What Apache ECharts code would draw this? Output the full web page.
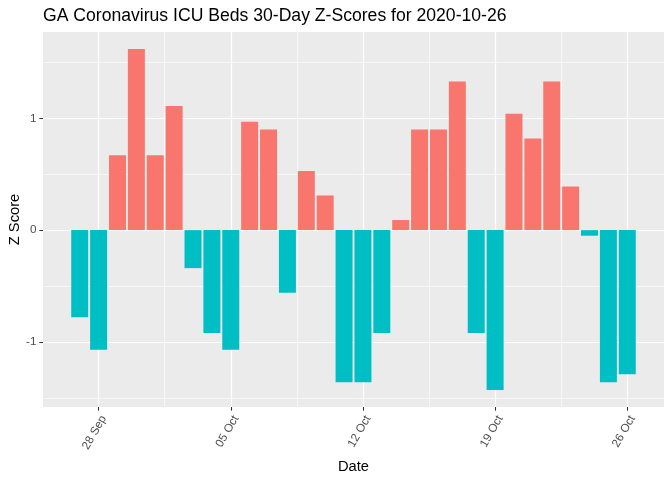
<!DOCTYPE html>
<html><head><meta charset="utf-8">
<script src="https://cdn.jsdelivr.net/npm/echarts@6/dist/echarts.min.js"></script>
<style>html,body{margin:0;padding:0;background:#fff}#c{width:672px;height:480px}</style>
</head><body><div id="c"></div>
<script>
const titleText = 'GA Coronavirus ICU Beds 30-Day Z-Scores for 2020-10-26';
const dates = ['2020-09-27','2020-09-28','2020-09-29','2020-09-30','2020-10-01','2020-10-02','2020-10-03',
  '2020-10-04','2020-10-05','2020-10-06','2020-10-07','2020-10-08','2020-10-09','2020-10-10',
  '2020-10-11','2020-10-12','2020-10-13','2020-10-14','2020-10-15','2020-10-16','2020-10-17',
  '2020-10-18','2020-10-19','2020-10-20','2020-10-21','2020-10-22','2020-10-23','2020-10-24',
  '2020-10-25','2020-10-26'];
const zScores = [-0.78,-1.07,0.67,1.62,0.67,1.11,-0.34,
  -0.92,-1.07,0.97,0.90,-0.56,0.53,0.31,
  -1.36,-1.36,-0.92,0.09,0.90,0.90,1.33,
  -0.92,-1.43,1.04,0.82,1.33,0.39,-0.05,
  -1.36,-1.29];
const xTickDates = ['2020-09-28','2020-10-05','2020-10-12','2020-10-19','2020-10-26'];
const xTickLabels = ['28 Sep','05 Oct','12 Oct','19 Oct','26 Oct'];
const yTicks = [-1, 0, 1];

const DAY = 86400000;
const origin = Date.parse(xTickDates[0]);
const toDay = d => Math.round((Date.parse(d) - origin) / DAY);
const days = dates.map(toDay);
const xMajor = xTickDates.map(toDay);
const xStep = xMajor[1] - xMajor[0];
const xMinor = [xMajor[0] - xStep / 2].concat(xMajor.map(v => v + xStep / 2));
const yStep = yTicks[1] - yTicks[0];
const yMinor = [yTicks[0] - yStep / 2].concat(yTicks.map(v => v + yStep / 2));

// ggplot-like expansion (5%) of the data range
const dLo = Math.min(...days) - 0.45, dHi = Math.max(...days) + 0.45;
const xMin = dLo - 0.05 * (dHi - dLo), xMax = dHi + 0.05 * (dHi - dLo);
const vLo = Math.min(0, ...zScores), vHi = Math.max(0, ...zScores);
const yMin = vLo - 0.05 * (vHi - vLo), yMax = vHi + 0.05 * (vHi - vLo);

const FONT = 'Liberation Sans, Arial, sans-serif';
const chart = echarts.init(document.getElementById('c'), null, {renderer: 'canvas'});
chart.setOption({
  animation: false,
  backgroundColor: '#ffffff',
  title: {
    text: titleText, left: 43, top: 7, padding: 0,
    textStyle: {fontFamily: FONT, fontSize: 17.6, fontWeight: 'normal', color: '#000'}
  },
  grid: {left: 43, right: 8, top: 32, bottom: 73, show: true, backgroundColor: '#EBEBEB', borderWidth: 0,
    containLabel: false, outerBoundsMode: 'none'},
  xAxis: [{
    type: 'value', min: xMin, max: xMax, position: 'bottom',
    axisLine: {show: false, onZero: false},
    axisTick: {show: true, customValues: xMajor, length: 3.7, lineStyle: {color: '#333333', width: 1.07}},
    axisLabel: {
      customValues: xMajor, rotate: 60, margin: 6.5, align: 'right', verticalAlign: 'top',
      color: '#4D4D4D', fontFamily: FONT, fontSize: 11.7,
      formatter: v => xTickLabels[xMajor.indexOf(v)] ?? ''
    },
    splitLine: {show: true, lineStyle: {color: '#FFFFFF', width: 1.2}},
    name: 'Date', nameLocation: 'middle', nameGap: 49,
    nameTextStyle: {fontFamily: FONT, fontSize: 14.7, color: '#000'}
  }, {
    type: 'value', min: xMin, max: xMax, position: 'top',
    axisLine: {show: false, onZero: false},
    axisTick: {show: false, customValues: xMinor},
    axisLabel: {show: false},
    splitLine: {show: true, lineStyle: {color: '#FFFFFF', width: 0.6}}
  }],
  yAxis: [{
    type: 'value', min: yMin, max: yMax, position: 'left',
    axisLine: {show: false, onZero: false},
    axisTick: {show: true, customValues: yTicks, length: 3.7, lineStyle: {color: '#333333', width: 1.07}},
    axisLabel: {
      customValues: yTicks, margin: 6.5, color: '#4D4D4D', fontFamily: FONT, fontSize: 11.7,
      formatter: v => String(v)
    },
    splitLine: {show: true, lineStyle: {color: '#FFFFFF', width: 1.2}},
    name: 'Z Score', nameLocation: 'middle', nameGap: 21, nameRotate: 90, nameMoveOverlap: false,
    nameTextStyle: {fontFamily: FONT, fontSize: 14.7, color: '#000'}
  }, {
    type: 'value', min: yMin, max: yMax, position: 'right',
    axisLine: {show: false, onZero: false},
    axisTick: {show: false, customValues: yMinor},
    axisLabel: {show: false},
    splitLine: {show: true, lineStyle: {color: '#FFFFFF', width: 0.6}}
  }],
  series: [{
    type: 'bar', xAxisIndex: 0, yAxisIndex: 0, barWidth: '90%',
    data: days.map((d, i) => [d, zScores[i]]),
    itemStyle: {color: p => p.value[1] >= 0 ? '#F8766D' : '#00BFC4'}
  }]
});
</script></body></html>
